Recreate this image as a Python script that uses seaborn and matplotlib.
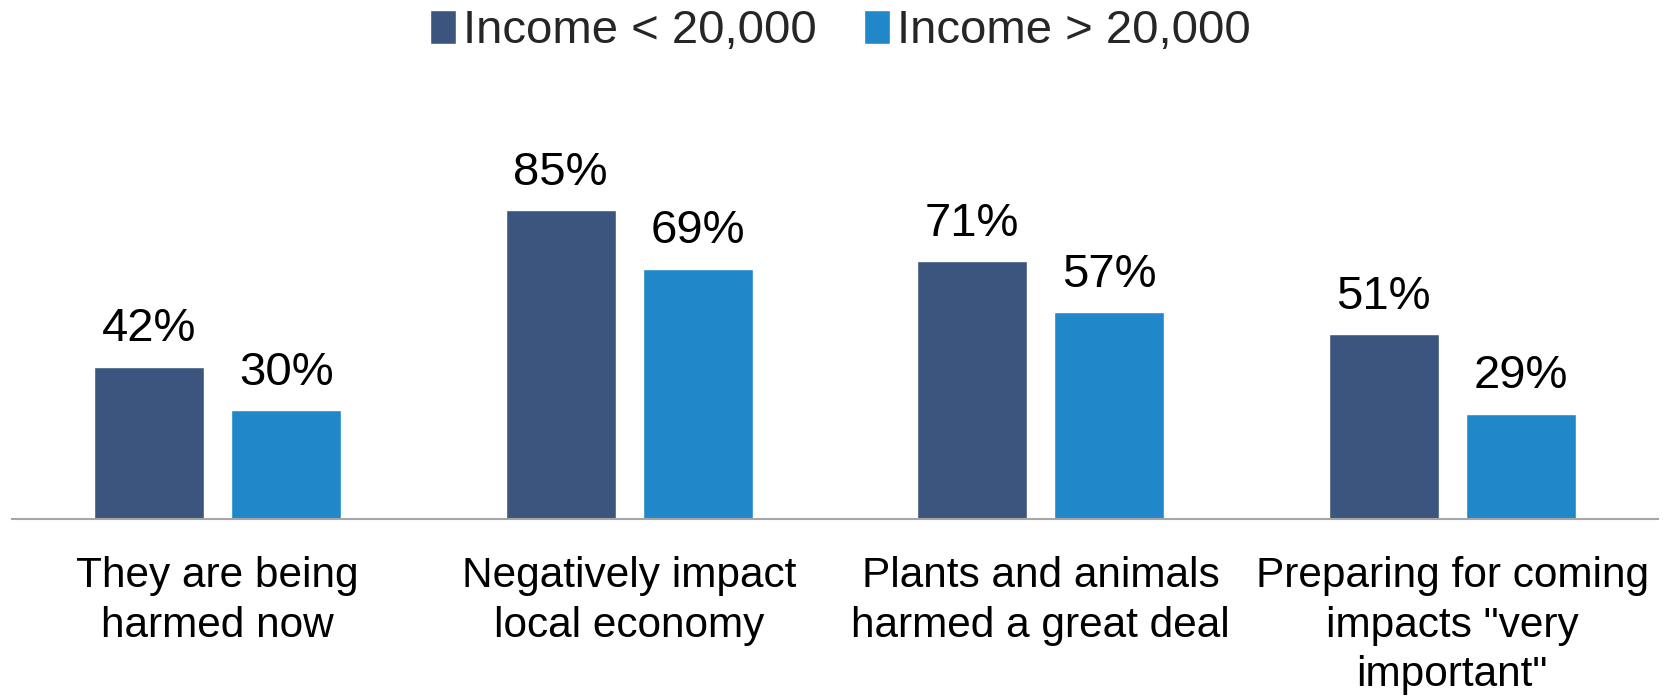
import matplotlib
matplotlib.use("Agg")
import matplotlib.pyplot as plt
import pandas as pd
import seaborn as sns

CATEGORIES = [
    "They are being\nharmed now",
    "Negatively impact\nlocal economy",
    "Plants and animals\nharmed a great deal",
    "Preparing for coming\nimpacts \"very\nimportant\"",
]
SERIES = ["Income < 20,000", "Income > 20,000"]
LOW_INCOME = [42, 85, 71, 51]
HIGH_INCOME = [30, 69, 57, 29]

COLORS = {"Income < 20,000": "#3C557E", "Income > 20,000": "#2088C8"}

sns.set_theme(style="white")
plt.rcParams["font.family"] = ["Liberation Sans", "DejaVu Sans"]

frame = pd.DataFrame({
    "category": CATEGORIES * 2,
    "series": [SERIES[0]] * len(CATEGORIES) + [SERIES[1]] * len(CATEGORIES),
    "value": LOW_INCOME + HIGH_INCOME,
})

fig = plt.figure(figsize=(16.65, 6.97), dpi=100)
ax = fig.add_axes([0.0072, 0.2554, 0.9886, 0.5208])

sns.barplot(
    data=frame,
    x="category",
    y="value",
    hue="series",
    order=CATEGORIES,
    hue_order=SERIES,
    palette=COLORS,
    width=0.666,
    gap=0.2,
    saturation=1,
    ax=ax,
)

for container in ax.containers:
    ax.bar_label(container, fmt="%d%%", padding=11, fontsize=34, color="black")

ax.set_xlim(-0.5, 3.5)
ax.set_ylim(0, 100)
ax.set_xlabel("")
ax.set_ylabel("")
ax.set_yticks([])
ax.tick_params(axis="x", length=0, pad=27, labelsize=30.5, colors="black")
for label in ax.get_xticklabels():
    label.set_linespacing(1.3)
for side in ["top", "left", "right"]:
    ax.spines[side].set_visible(False)
ax.spines["bottom"].set_color("#A6A6A6")
ax.spines["bottom"].set_linewidth(1.5)

handles, labels = ax.get_legend_handles_labels()
ax.legend_.remove()
fig.legend(
    handles,
    labels,
    loc="center",
    bbox_to_anchor=(0.505, 0.955),
    ncol=2,
    frameon=False,
    fontsize=34,
    handlelength=0.55,
    handleheight=0.75,
    handletextpad=0.15,
    columnspacing=1.0,
)

fig.savefig("out.png", dpi=100)
